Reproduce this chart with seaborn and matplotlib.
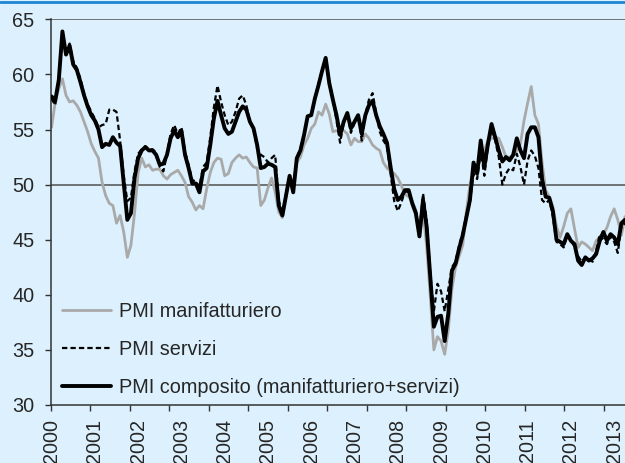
import numpy as np
import pandas as pd
import seaborn as sns
import matplotlib.pyplot as plt
from matplotlib.lines import Line2D

# etichette asse x (un anno ogni 12 mesi, da gen 2000)
anni = [str(a) for a in range(2000, 2014)]

# valori mensili (gen 2000 - apr 2013)
pmi_manifatturiero = [
    55.2, 57.5, 58.7, 59.6, 58.1, 57.5, 57.6, 57.2, 56.6, 55.7, 54.8, 53.7,
    53.0, 52.4, 50.2, 49.0, 48.3, 48.1, 46.5, 47.2, 45.7, 43.4, 44.5, 47.4,
    51.1, 52.4, 51.6, 51.8, 51.3, 51.4, 51.4, 50.8, 50.5, 50.9, 51.1, 51.3,
    50.8, 50.2, 48.9, 48.4, 47.7, 48.1, 47.8, 49.6, 51.1, 52.0, 52.4, 52.3,
    50.8, 51.0, 52.0, 52.4, 52.7, 52.4, 52.5, 52.0, 51.6, 51.5, 48.1, 48.6,
    49.7, 50.6, 49.3, 47.5, 47.0, 49.0, 50.6, 50.0, 52.0, 52.5, 53.6, 54.2,
    55.1, 55.5, 56.6, 56.3, 57.3, 56.4, 54.8, 54.9, 54.8, 54.9, 54.6, 53.6,
    54.2, 53.9, 53.9, 54.6, 54.2, 53.6, 53.3, 53.1, 52.0, 51.5, 51.2, 51.0,
    50.6, 49.9, 49.1, 48.9, 48.5, 47.7, 45.3, 47.5, 44.4, 39.9, 35.0, 36.2,
    35.8, 34.6, 36.8, 40.5, 42.5, 43.5, 44.5, 47.5, 50.0, 51.3, 51.6, 52.5,
    53.1, 54.0, 54.2, 54.3, 54.2, 53.4, 52.5, 52.5, 52.6, 53.1, 53.7, 55.8,
    57.4, 58.9, 56.3, 55.5, 52.0, 49.5, 48.9, 48.0, 46.2, 45.2, 46.2, 47.4,
    47.8, 46.0, 44.3, 44.8, 44.6, 44.3, 44.0, 44.9, 45.2, 45.5, 46.1, 47.1,
    47.8, 46.8, 45.4, 47.1,
]
pmi_servizi = [
    57.8, 57.2, 59.6, 63.5, 62.0, 62.8, 61.2, 60.6, 59.6, 58.3, 57.3, 56.6,
    56.0, 55.2, 55.4, 55.5, 56.8, 56.8, 56.6, 54.0, 50.8, 48.5, 48.8, 51.2,
    52.8, 53.2, 53.5, 53.2, 53.2, 52.9, 51.6, 51.2, 52.8, 54.6, 55.4, 54.6,
    55.2, 53.0, 51.8, 50.4, 50.3, 49.8, 51.6, 52.0, 54.3, 57.0, 59.0, 57.5,
    56.3, 55.4, 55.7, 56.6, 57.8, 58.1, 57.2, 55.7, 55.0, 53.3, 52.7, 52.5,
    52.0, 52.4, 52.7, 48.5, 47.5, 49.0, 50.5, 49.5, 52.4, 53.3, 54.5, 56.2,
    56.3, 57.9, 59.1, 60.4, 61.5, 59.4, 57.8, 55.8, 53.8, 55.6, 56.4, 54.7,
    55.6, 56.3, 54.0, 56.4, 57.7, 58.3, 56.5, 54.8, 54.0, 53.5, 51.0, 48.5,
    47.6, 48.4, 49.4, 49.3, 48.3, 47.6, 45.8, 49.2, 46.8, 42.0, 38.5, 41.0,
    40.3, 38.5, 40.5, 42.5, 43.0, 44.5, 45.6, 47.2, 48.5, 51.0, 50.5, 53.0,
    50.8, 53.5, 55.0, 54.0, 52.5, 50.0, 51.0, 51.5, 51.3, 52.8, 51.6, 50.0,
    52.2, 53.1, 52.6, 51.5, 48.6, 48.3, 48.6, 47.1, 44.8, 44.6, 44.3, 45.5,
    45.0, 44.3, 43.5, 43.0, 43.4, 43.3, 43.0, 44.0, 45.5, 45.0, 44.6, 45.3,
    44.8, 43.8, 46.2, 46.5,
]
pmi_composito = [
    58.0, 57.6, 59.5, 63.9, 61.8, 62.6, 60.9, 60.4, 59.3, 58.1, 57.1, 56.3,
    55.8, 55.0, 53.4, 53.7, 53.6, 54.3, 53.8, 53.5, 50.2, 46.8, 47.4, 50.6,
    52.4, 53.1, 53.4, 53.1, 53.1, 52.7, 51.8, 51.9, 52.7, 54.2, 54.9, 54.3,
    54.9, 52.7, 51.5, 50.1, 50.1, 49.3, 51.2, 51.5, 53.6, 56.0, 57.6, 56.3,
    55.1, 54.6, 54.8, 55.7, 56.6, 57.1, 56.8, 55.7, 55.1, 53.6, 51.5, 51.6,
    51.9, 51.8, 51.6, 48.1, 47.2, 49.0, 50.8, 49.3, 52.4, 53.1, 54.5, 56.2,
    56.3, 57.8, 59.0, 60.3, 61.5, 59.2, 57.7, 56.3, 54.5, 55.7, 56.5, 55.1,
    55.7, 56.3, 54.6, 56.3, 57.2, 57.6, 56.3, 55.3, 54.6, 53.8, 51.6, 49.6,
    48.6, 48.9, 49.5, 49.5, 48.3, 47.4, 45.3, 48.6, 46.2, 41.6, 37.1, 38.0,
    38.1, 35.8, 38.3, 42.2, 42.8, 44.2, 45.4, 47.0, 48.6, 52.0, 51.0, 54.0,
    51.6, 53.7, 55.5, 54.3, 53.1, 52.1, 52.5, 52.2, 52.7, 54.2, 53.1, 52.4,
    54.6, 55.2, 55.2, 54.3, 50.5, 48.9, 48.8, 47.6, 45.0, 44.8, 44.6, 45.5,
    44.9, 44.6, 43.1, 42.7, 43.4, 43.1, 43.3, 43.7, 44.9, 45.7, 44.9, 45.5,
    45.2, 44.6, 46.5, 46.8,
]

mesi = np.arange(len(pmi_composito))
df = pd.DataFrame({
    'mese': mesi,
    'PMI manifatturiero': pmi_manifatturiero,
    'PMI servizi': pmi_servizi,
    'PMI composito (manifatturiero+servizi)': pmi_composito,
})

sns.set_style('ticks')
plt.rcParams['font.family'] = ['Liberation Sans', 'DejaVu Sans']
plt.rcParams['font.size'] = 14.3

sfondo = '#DCF1FD'
fig = plt.figure(figsize=(6.25, 4.63), dpi=100, facecolor=sfondo)
ax = fig.add_axes([0.0811, 0.1253, 0.9189, 0.833])
ax.set_facecolor(sfondo)

# linee di riferimento
ax.axhline(65, color='#505050', lw=1.1, zorder=1)
ax.axhline(50, color='#505050', lw=1.1, zorder=1)

sns.lineplot(data=df, x='mese', y='PMI manifatturiero', ax=ax, color='#A9A9A9',
             lw=2.0, label='PMI manifatturiero', zorder=2)
sns.lineplot(data=df, x='mese', y='PMI servizi', ax=ax, color='black',
             lw=1.6, ls=(0, (2.4, 1.4)), label='PMI servizi', zorder=3)
sns.lineplot(data=df, x='mese', y='PMI composito (manifatturiero+servizi)', ax=ax,
             color='black', lw=2.8, label='PMI composito (manifatturiero+servizi)', zorder=4)

ax.set_xlim(-0.25, 159.0)
ax.set_ylim(30, 65)
ax.set_xlabel('')
ax.set_ylabel('')

ax.set_yticks(range(30, 66, 5))
ax.tick_params(axis='y', direction='out', length=4.6, width=1, pad=7,
               color='#333333', labelsize=14.3)

# etichette anni ogni 12 mesi, tacche ogni 11 mesi (come nell'originale)
ax.set_xticks(np.arange(len(anni)) * 12)
ax.set_xticklabels(anni, rotation=90, va='top', ha='center')
ax.set_xticks(np.arange(15) * 10.95 - 0.25, minor=True)
ax.tick_params(axis='x', which='major', length=0, pad=10, labelsize=14.3)
ax.tick_params(axis='x', which='minor', direction='out', length=4.6, width=1,
               color='#333333')

for s in ['top', 'right']:
    ax.spines[s].set_visible(False)
for s in ['left', 'bottom']:
    ax.spines[s].set_color('#333333')
    ax.spines[s].set_linewidth(1.1)

leg = ax.legend(loc='lower left', bbox_to_anchor=(0.005, 0.0), frameon=False,
                handlelength=2.5, handletextpad=0.4, labelspacing=0.97,
                fontsize=14.3, borderaxespad=0.0)

# bordo blu in alto
fig.add_artist(Line2D([0, 1], [0.9957, 0.9957], transform=fig.transFigure,
                      color='#1E86D2', lw=2))

fig.savefig('out.png', dpi=100, facecolor=sfondo)
